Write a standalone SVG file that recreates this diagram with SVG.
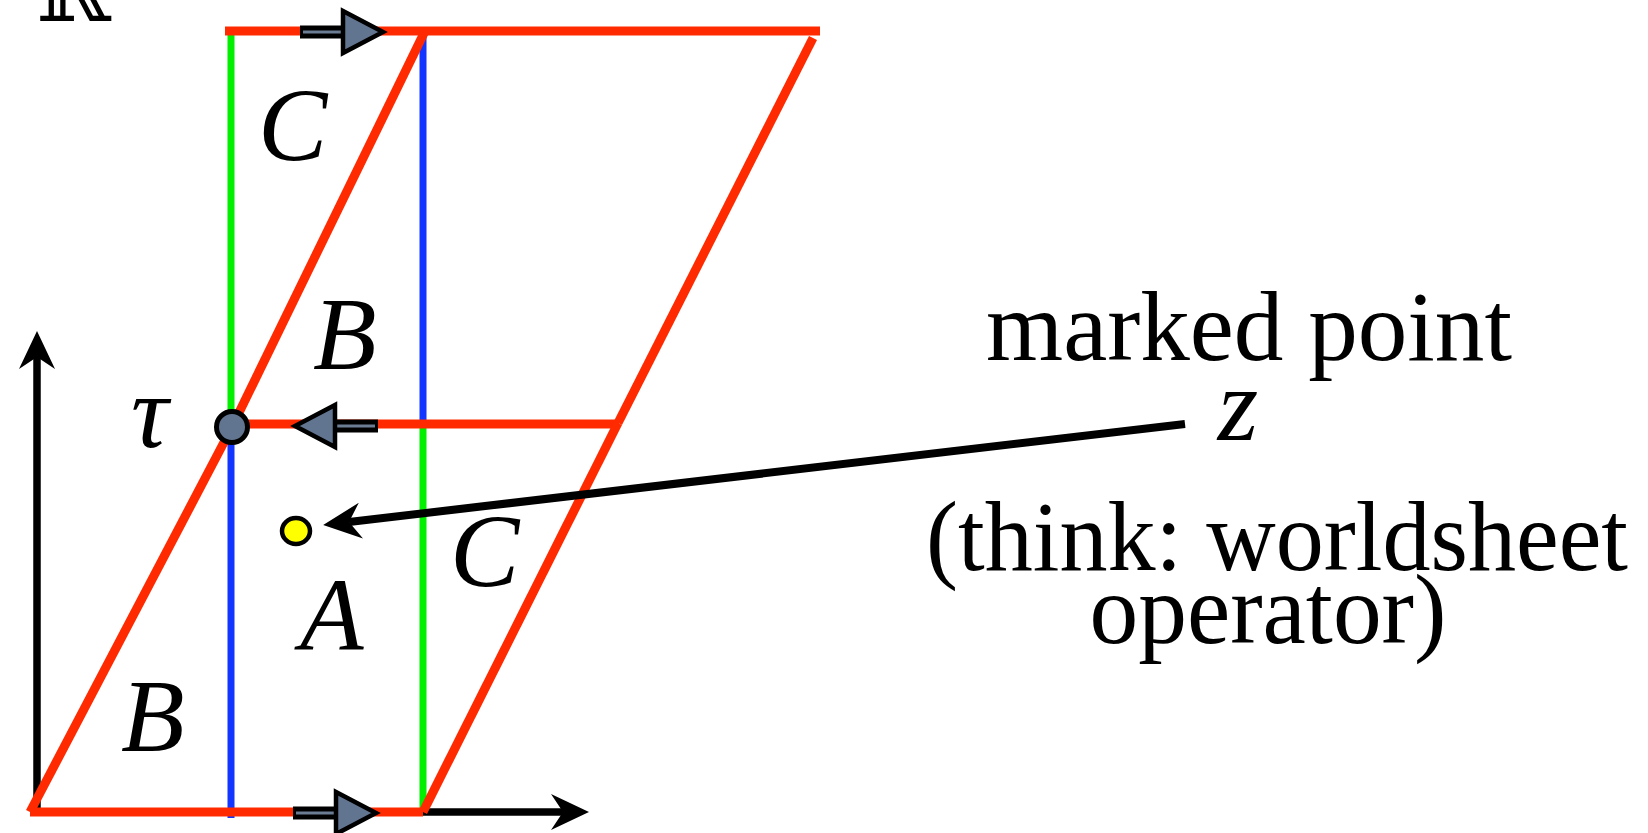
<svg xmlns="http://www.w3.org/2000/svg" xmlns:xlink="http://www.w3.org/1999/xlink" width="1648" height="833" viewBox="0 0 1648 833">
<style>
.red{stroke:#ff2a00;stroke-width:9;fill:none;stroke-linecap:butt}
.grn{stroke:#00f000;stroke-width:7;fill:none}
.blu{stroke:#1236ff;stroke-width:7;fill:none}
.axis{stroke:#000;stroke-width:7.5;fill:none}
.ptr{stroke:#000;stroke-width:8;fill:none}
.math{font-family:"Liberation Serif","Times New Roman",serif;font-style:italic;font-size:104px;fill:#000}
.txt{font-family:"Liberation Serif","Times New Roman",serif;font-size:99px;fill:#000;text-anchor:middle}
</style>
<defs>
<marker id="stealth" markerUnits="userSpaceOnUse" viewBox="0 0 38 36" refX="12" refY="18" markerWidth="38" markerHeight="36" orient="auto">
<path d="M0,0 L38,18 L0,36 L12,18 Z" fill="#000"/>
</marker>
<g id="barrow">
<rect x="-43" y="-6.5" width="43" height="13" fill="#000"/>
<line x1="-40" y1="0" x2="0" y2="0" stroke="#6a7d93" stroke-width="3"/>
<path d="M0,-21 L40,0 L0,21 Z" fill="#627590" stroke="#000" stroke-width="4.5" stroke-linejoin="miter"/>
</g>
</defs>

<g id="axes">
<line class="axis" x1="37" y1="812" x2="37" y2="357" marker-end="url(#stealth)"/>
<line class="axis" x1="423" y1="812" x2="563" y2="812" marker-end="url(#stealth)"/>
</g>

<g id="verticals">
<line class="grn" x1="231" y1="35" x2="231" y2="427"/>
<line class="blu" x1="231" y1="427" x2="231" y2="818"/>
<line class="blu" x1="423" y1="35" x2="423" y2="424"/>
<line class="grn" x1="423" y1="424" x2="423" y2="812"/>
</g>

<g id="edges">
<line class="red" x1="225" y1="31" x2="820" y2="31"/>
<line class="red" x1="30" y1="812" x2="423" y2="812"/>
<line class="red" x1="232" y1="424" x2="619" y2="424"/>
<line class="red" x1="30" y1="812" x2="232" y2="427"/>
<line class="red" x1="232" y1="427" x2="425" y2="31"/>
<line class="red" x1="423" y1="812" x2="618" y2="423"/>
<line class="red" x1="618" y1="423" x2="813" y2="38"/>
</g>

<g id="flow-arrows">
<use xlink:href="#barrow" transform="translate(343,32)"/>
<use xlink:href="#barrow" transform="translate(335,426) scale(-1,1)"/>
<use xlink:href="#barrow" transform="translate(336,813)"/>
</g>

<g id="connectors">
<line class="ptr" x1="1185" y1="424" x2="349" y2="522" marker-end="url(#stealth)"/>
</g>

<g id="tau-point">
<circle cx="232" cy="427" r="15.5" fill="#627590" stroke="#000" stroke-width="5"/>
</g>
<g id="marked-point">
<ellipse cx="296" cy="531" rx="14" ry="13" fill="#ffff00" stroke="#000" stroke-width="4.5"/>
</g>

<g id="labels">
<text class="math" x="258" y="160">C</text>
<text class="math" x="313" y="369">B</text>
<text class="math" x="131" y="447" font-size="112">τ</text>
<text class="math" x="450" y="586">C</text>
<text class="math" x="300" y="650">A</text>
<text class="math" x="121" y="751">B</text>
</g>

<g id="corner-label">
<text x="6" y="24" font-family="Liberation Serif, serif" font-size="90" text-anchor="end">×</text>
<text x="36" y="21" font-family="DejaVu Serif, DejaVu Sans, serif" font-size="90">ℝ</text>
</g>

<g id="annotation">
<text class="txt" x="1249" y="360" textLength="526" lengthAdjust="spacingAndGlyphs">marked point</text>
<text class="math" x="1238" y="440" text-anchor="middle">z</text>
<text class="txt" x="1277" y="570" textLength="702" lengthAdjust="spacingAndGlyphs">(think: worldsheet</text>
<text class="txt" x="1268" y="643" textLength="357" lengthAdjust="spacingAndGlyphs">operator)</text>
</g>
</svg>
